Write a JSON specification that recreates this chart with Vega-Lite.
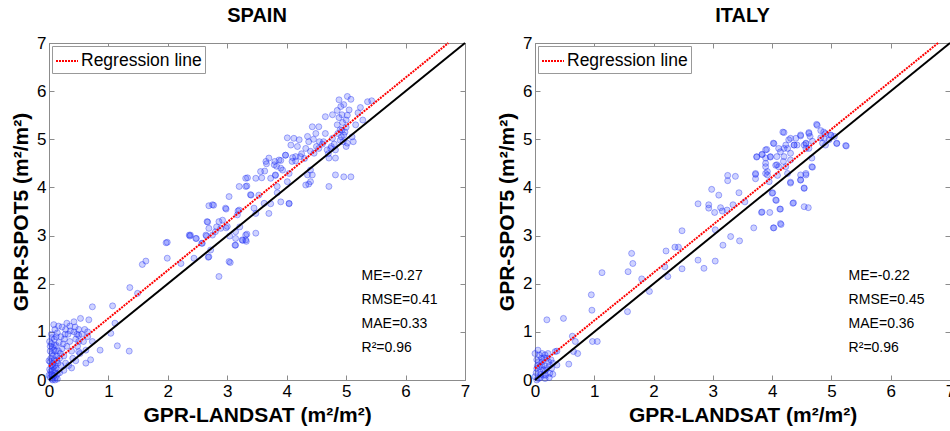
{
  "$schema": "https://vega.github.io/schema/vega-lite/v6.json",
  "padding": {"left": 10, "top": 5, "right": 0, "bottom": 0},
  "config": {
    "font": "Liberation Sans",
    "view": {"stroke": "#8c8c8c", "strokeWidth": 1},
    "axis": {
      "grid": false,
      "domainColor": "#8c8c8c",
      "tickColor": "#8c8c8c",
      "tickSize": -5,
      "labelPadding": 8,
      "labelFont": "Liberation Sans",
      "labelFontSize": 17,
      "labelColor": "black",
      "labelFlush": false,
      "labelOverlap": false,
      "titleFont": "Liberation Sans",
      "titleFontSize": 21,
      "titleFontWeight": "bold",
      "titleColor": "black",
      "titlePadding": 5
    },
    "legend": {
      "orient": "top-left",
      "offset": 3,
      "padding": 3,
      "strokeColor": "#999999",
      "fillColor": "white",
      "labelFont": "Liberation Sans",
      "labelFontSize": 17.5,
      "labelColor": "black",
      "labelOffset": 2,
      "symbolType": "stroke",
      "symbolSize": 484,
      "symbolStrokeWidth": 2,
      "symbolDash": [2, 1]
    },
    "title": {"font": "Liberation Sans", "fontSize": 20, "fontWeight": "bold", "color": "black", "offset": 8, "frame": "group", "anchor": "middle"}
  },
  "datasets": {
    "diag": [{"x": 0, "y": 0}, {"x": 7, "y": 7}],
    "spainReg": [{"x": 0, "y": 0.28}, {"x": 6.72, "y": 7.0}],
    "italyReg": [{"x": 0, "y": 0.24}, {"x": 6.8, "y": 7.0}],
    "spainStats": [
      {"x": 5.26, "y": 2.16, "label": "ME=-0.27"},
      {"x": 5.26, "y": 1.66, "label": "RMSE=0.41"},
      {"x": 5.26, "y": 1.16, "label": "MAE=0.33"},
      {"x": 5.26, "y": 0.66, "label": "R²=0.96"}
    ],
    "italyStats": [
      {"x": 5.29, "y": 2.16, "label": "ME=-0.22"},
      {"x": 5.29, "y": 1.66, "label": "RMSE=0.45"},
      {"x": 5.29, "y": 1.16, "label": "MAE=0.36"},
      {"x": 5.29, "y": 0.66, "label": "R²=0.96"}
    ],
    "spain": [
      {"x":5.02,"y":5.89},{"x":4.88,"y":5.82},{"x":5.08,"y":5.83},{"x":5.36,"y":5.78},{"x":5.43,"y":5.8},{"x":5.24,"y":5.66},{"x":5.05,"y":5.61},{"x":4.91,"y":5.68},{"x":4.93,"y":5.51},{"x":5.0,"y":5.4},
      {"x":4.77,"y":5.51},{"x":4.65,"y":5.47},{"x":5.16,"y":5.3},{"x":4.85,"y":5.3},{"x":4.93,"y":5.19},{"x":4.96,"y":5.09},{"x":5.02,"y":4.92},{"x":4.77,"y":5.02},{"x":4.65,"y":5.12},{"x":4.49,"y":5.12},
      {"x":4.43,"y":5.26},{"x":4.54,"y":5.26},{"x":4.35,"y":5.06},{"x":4.37,"y":4.95},{"x":4.21,"y":4.99},{"x":4.12,"y":5.02},{"x":4.01,"y":5.03},{"x":4.07,"y":4.88},{"x":4.15,"y":4.64},{"x":4.23,"y":4.64},
      {"x":4.09,"y":4.54},{"x":4.32,"y":4.81},{"x":4.46,"y":4.71},{"x":4.54,"y":4.81},{"x":4.62,"y":4.95},{"x":4.74,"y":4.81},{"x":4.82,"y":4.78},{"x":4.71,"y":4.61},{"x":4.82,"y":4.61},{"x":4.68,"y":4.78},
      {"x":4.4,"y":4.36},{"x":4.35,"y":4.26},{"x":4.4,"y":4.12},{"x":4.43,"y":4.26},{"x":4.32,"y":4.05},{"x":4.37,"y":4.07},{"x":4.71,"y":4.02},{"x":4.82,"y":4.26},{"x":4.96,"y":4.22},{"x":5.08,"y":4.22},
      {"x":4.04,"y":4.29},{"x":4.01,"y":4.12},{"x":3.98,"y":4.67},{"x":3.7,"y":4.61},{"x":3.87,"y":4.57},{"x":3.79,"y":4.47},{"x":3.9,"y":4.4},{"x":3.93,"y":4.36},{"x":3.81,"y":4.26},{"x":3.73,"y":4.19},
      {"x":3.65,"y":4.54},{"x":3.56,"y":4.33},{"x":3.84,"y":4.02},{"x":3.9,"y":3.7},{"x":4.04,"y":3.67},{"x":3.48,"y":4.19},{"x":3.31,"y":4.19},{"x":3.2,"y":4.02},{"x":3.31,"y":4.02},{"x":3.53,"y":3.84},
      {"x":3.4,"y":3.84},{"x":3.62,"y":3.67},{"x":3.7,"y":3.46},{"x":3.48,"y":3.46},{"x":3.45,"y":3.57},{"x":3.03,"y":3.81},{"x":2.97,"y":3.57},{"x":3.2,"y":3.53},{"x":3.17,"y":3.43},{"x":2.75,"y":3.64},
      {"x":2.69,"y":3.62},{"x":2.66,"y":3.29},{"x":2.86,"y":3.29},{"x":2.89,"y":3.15},{"x":2.8,"y":3.08},{"x":2.69,"y":3.15},{"x":2.64,"y":3.01},{"x":2.75,"y":3.01},{"x":2.47,"y":2.94},{"x":2.38,"y":3.01},
      {"x":2.36,"y":3.01},{"x":2.58,"y":2.84},{"x":2.72,"y":2.7},{"x":2.69,"y":2.56},{"x":3.0,"y":3.19},{"x":3.14,"y":2.94},{"x":3.14,"y":2.8},{"x":3.25,"y":2.91},{"x":3.31,"y":2.91},{"x":3.31,"y":3.01},
      {"x":3.14,"y":3.08},{"x":3.48,"y":3.05},{"x":3.03,"y":2.46},{"x":2.86,"y":2.15},{"x":2.44,"y":2.53},{"x":2.22,"y":2.42},{"x":1.99,"y":2.53},{"x":1.99,"y":2.86},{"x":1.57,"y":2.4},{"x":1.63,"y":2.47},
      {"x":1.36,"y":1.92},{"x":1.49,"y":1.8},{"x":0.73,"y":1.52},{"x":1.07,"y":1.54},{"x":1.11,"y":1.18},{"x":1.04,"y":0.97},{"x":1.15,"y":0.71},{"x":1.35,"y":0.6},{"x":0.86,"y":0.62},{"x":0.65,"y":1.0},
      {"x":0.73,"y":0.8},{"x":0.62,"y":0.35},{"x":0.7,"y":0.42},{"x":0.5,"y":0.93},{"x":0.5,"y":0.59},
      {"x":4.88,"y":5.45},{"x":4.9,"y":5.2},{"x":4.92,"y":5.05},{"x":4.95,"y":4.95},{"x":4.98,"y":5.15},{"x":5.0,"y":5.25},{"x":4.86,"y":5.12},{"x":4.9,"y":4.98},{"x":4.94,"y":5.35},{"x":5.02,"y":5.5},
      {"x":4.96,"y":5.72},{"x":4.85,"y":5.6},{"x":4.8,"y":4.9},{"x":4.75,"y":4.85},{"x":4.7,"y":4.7},{"x":4.6,"y":4.9},{"x":4.55,"y":4.95},{"x":4.5,"y":4.85},{"x":4.45,"y":5.0},{"x":4.4,"y":4.75},
      {"x":4.3,"y":4.6},{"x":4.25,"y":4.7},{"x":4.15,"y":4.55},{"x":4.18,"y":4.85},{"x":4.1,"y":4.62},{"x":5.1,"y":5.05},{"x":5.2,"y":5.55},{"x":5.28,"y":5.4},{"x":5.12,"y":4.95},{"x":5.0,"y":4.85},
      {"x":1.97,"y":2.85},{"x":2.37,"y":2.99},{"x":2.48,"y":2.94},{"x":2.57,"y":2.84},{"x":2.65,"y":2.99},{"x":2.67,"y":3.28},{"x":2.77,"y":3.63},{"x":2.82,"y":3.18},{"x":2.92,"y":3.32},{"x":2.98,"y":3.55},
      {"x":2.98,"y":3.16},{"x":2.68,"y":2.55},{"x":3.05,"y":2.44},{"x":3.04,"y":2.99},{"x":3.13,"y":2.8},{"x":3.18,"y":3.51},{"x":3.21,"y":3.18},{"x":3.33,"y":4.03},{"x":3.34,"y":4.2},{"x":3.26,"y":2.9},
      {"x":3.32,"y":2.88},{"x":3.33,"y":3.03},{"x":3.39,"y":3.85},{"x":3.58,"y":4.2},{"x":3.63,"y":4.34},{"x":3.66,"y":4.49},{"x":3.8,"y":4.54},{"x":3.83,"y":4.44},{"x":3.9,"y":4.56},{"x":3.81,"y":4.25},
      {"x":3.73,"y":3.66},{"x":3.84,"y":3.89},{"x":3.98,"y":4.67},{"x":4.04,"y":3.66},
      {"x":0.02,"y":0.05},{"x":0.03,"y":0.12},{"x":0.05,"y":0.02},{"x":0.06,"y":0.2},{"x":0.04,"y":0.3},{"x":0.08,"y":0.08},{"x":0.1,"y":0.15},{"x":0.07,"y":0.35},{"x":0.03,"y":0.45},{"x":0.05,"y":0.55},
      {"x":0.09,"y":0.42},{"x":0.12,"y":0.25},{"x":0.11,"y":0.05},{"x":0.02,"y":0.6},{"x":0.06,"y":0.68},{"x":0.04,"y":0.75},{"x":0.08,"y":0.62},{"x":0.13,"y":0.5},{"x":0.15,"y":0.35},{"x":0.14,"y":0.12},
      {"x":0.01,"y":0.22},{"x":0.02,"y":0.38},{"x":0.1,"y":0.3},{"x":0.12,"y":0.72},{"x":0.09,"y":0.85},{"x":0.05,"y":0.88},{"x":0.16,"y":0.6},{"x":0.18,"y":0.45},{"x":0.2,"y":0.3},{"x":0.17,"y":0.78},
      {"x":0.22,"y":0.65},{"x":0.25,"y":0.5},{"x":0.28,"y":0.35},{"x":0.3,"y":0.7},{"x":0.26,"y":0.85},{"x":0.2,"y":0.9},{"x":0.14,"y":0.98},{"x":0.32,"y":0.95},{"x":0.35,"y":0.8},{"x":0.38,"y":0.6},
      {"x":0.4,"y":0.45},{"x":0.42,"y":1.0},{"x":0.45,"y":0.85},{"x":0.48,"y":0.7},{"x":0.35,"y":1.12},{"x":0.28,"y":1.05},{"x":0.22,"y":1.1},{"x":0.3,"y":1.18},{"x":0.5,"y":1.05},{"x":0.55,"y":0.95},
      {"x":0.58,"y":0.8},{"x":0.52,"y":0.55},{"x":0.6,"y":1.05},{"x":0.45,"y":0.4},{"x":0.33,"y":0.3},{"x":0.25,"y":0.2},{"x":0.18,"y":0.15},{"x":0.07,"y":0.5},{"x":0.11,"y":0.6},{"x":0.04,"y":0.95},
      {"x":0.1,"y":1.05},{"x":0.16,"y":1.12},{"x":0.38,"y":0.25},{"x":0.62,"y":0.62},{"x":0.65,"y":0.9},{"x":0.67,"y":1.25},{"x":0.53,"y":1.28},{"x":0.42,"y":1.21},{"x":0.06,"y":0.0},{"x":0.1,"y":0.0},
      {"x":0.14,"y":0.02},{"x":0.03,"y":0.18},{"x":0.07,"y":0.27},{"x":0.09,"y":0.72},{"x":0.01,"y":0.8},{"x":0.13,"y":0.4},{"x":0.19,"y":0.55},{"x":0.24,"y":0.75},{"x":0.27,"y":0.95},{"x":0.36,"y":1.02},
      {"x":0.44,"y":1.1},{"x":0.47,"y":0.95},{"x":0.5,"y":0.8},{"x":0.0,"y":0.1},{"x":0.0,"y":0.4},{"x":0.08,"y":1.15},{"x":0.12,"y":0.9},{"x":0.02,"y":0.7},{"x":0.06,"y":0.1},{"x":0.09,"y":0.22}
    ],
    "italy": [
      {"x":4.75,"y":5.31},{"x":4.18,"y":5.15},{"x":4.62,"y":5.14},{"x":4.82,"y":5.18},{"x":4.64,"y":5.06},{"x":4.48,"y":5.09},{"x":4.57,"y":4.92},{"x":4.4,"y":5.02},{"x":4.28,"y":4.99},{"x":4.31,"y":5.02},
      {"x":4.23,"y":4.88},{"x":4.37,"y":4.88},{"x":4.42,"y":4.88},{"x":4.9,"y":5.12},{"x":4.99,"y":5.09},{"x":4.96,"y":4.99},{"x":4.88,"y":5.02},{"x":4.85,"y":4.92},{"x":5.05,"y":5.06},{"x":5.09,"y":4.92},
      {"x":5.24,"y":4.87},{"x":4.9,"y":4.88},{"x":4.62,"y":4.81},{"x":4.57,"y":4.81},{"x":4.54,"y":4.88},{"x":4.02,"y":4.92},{"x":4.2,"y":4.81},{"x":4.11,"y":4.81},{"x":3.89,"y":4.78},{"x":3.83,"y":4.69},
      {"x":3.74,"y":4.64},{"x":3.97,"y":4.64},{"x":4.08,"y":4.64},{"x":3.89,"y":4.61},{"x":3.89,"y":4.5},{"x":3.89,"y":4.43},{"x":4.2,"y":4.64},{"x":4.08,"y":4.47},{"x":4.31,"y":4.71},{"x":4.31,"y":4.57},
      {"x":4.23,"y":4.43},{"x":4.11,"y":4.43},{"x":4.67,"y":4.61},{"x":4.67,"y":4.43},{"x":3.92,"y":4.33},{"x":3.92,"y":4.26},{"x":3.72,"y":4.27},{"x":3.72,"y":4.18},{"x":3.95,"y":4.12},{"x":4.26,"y":4.29},
      {"x":4.48,"y":4.26},{"x":4.57,"y":4.26},{"x":4.48,"y":4.16},{"x":4.31,"y":4.09},{"x":4.54,"y":3.98},{"x":4.0,"y":3.88},{"x":4.06,"y":3.74},{"x":4.14,"y":3.55},{"x":4.35,"y":3.67},{"x":4.54,"y":3.6},
      {"x":4.61,"y":3.58},{"x":3.82,"y":3.48},{"x":3.96,"y":3.48},{"x":4.14,"y":3.25},{"x":4.02,"y":3.16},{"x":3.69,"y":3.16},{"x":3.25,"y":4.25},{"x":3.25,"y":4.14},{"x":3.38,"y":4.23},{"x":2.98,"y":3.96},
      {"x":3.1,"y":3.84},{"x":3.44,"y":3.89},{"x":3.54,"y":3.7},{"x":3.34,"y":3.64},{"x":2.75,"y":3.66},{"x":2.93,"y":3.64},{"x":2.93,"y":3.57},{"x":3.03,"y":3.48},{"x":3.13,"y":3.58},{"x":3.16,"y":3.51},
      {"x":3.24,"y":3.53},{"x":3.04,"y":3.12},{"x":3.3,"y":2.98},{"x":3.17,"y":2.8},{"x":3.45,"y":2.89},{"x":2.75,"y":2.49},{"x":2.85,"y":2.32},{"x":3.04,"y":2.47},{"x":2.48,"y":3.1},{"x":2.36,"y":2.76},
      {"x":2.42,"y":2.76},{"x":2.21,"y":2.68},{"x":2.48,"y":2.31},{"x":2.19,"y":2.35},{"x":2.24,"y":2.15},{"x":1.63,"y":2.63},{"x":1.65,"y":2.42},{"x":1.57,"y":2.25},{"x":1.8,"y":2.1},{"x":1.93,"y":1.84},
      {"x":1.56,"y":1.42},{"x":1.13,"y":2.23},{"x":0.95,"y":1.77},{"x":0.96,"y":1.45},{"x":0.97,"y":0.8},{"x":1.05,"y":0.8},{"x":0.2,"y":1.25},{"x":0.48,"y":1.28},{"x":0.63,"y":0.91},{"x":0.68,"y":0.8},
      {"x":0.72,"y":0.55},{"x":0.57,"y":0.33},{"x":0.65,"y":0.59},{"x":0.37,"y":0.6},{"x":0.34,"y":0.59},{"x":0.27,"y":0.42},{"x":0.37,"y":0.31},{"x":0.28,"y":0.24},{"x":0.17,"y":0.52},{"x":0.0,"y":0.55},
      {"x":0.05,"y":0.62},{"x":0.06,"y":0.38},{"x":0.11,"y":0.31},{"x":0.03,"y":0.24},{"x":0.08,"y":0.17},{"x":0.14,"y":0.1},{"x":0.0,"y":0.07},{"x":0.06,"y":0.03},{"x":0.2,"y":0.24},{"x":0.23,"y":0.38},
      {"x":0.11,"y":0.45},{"x":0.17,"y":0.03},{"x":0.25,"y":0.14},{"x":0.03,"y":0.42},{"x":0.08,"y":0.28},{"x":0.14,"y":0.21},{"x":0.02,"y":0.15},{"x":0.04,"y":0.3},{"x":0.1,"y":0.12},{"x":0.12,"y":0.38},
      {"x":0.15,"y":0.3},{"x":0.18,"y":0.2},{"x":0.03,"y":0.0},{"x":0.09,"y":0.05},{"x":0.2,"y":0.45},{"x":0.22,"y":0.55},{"x":0.25,"y":0.3},{"x":0.3,"y":0.35},{"x":0.07,"y":0.52},{"x":0.12,"y":0.55},
      {"x":0.15,"y":0.46},{"x":0.18,"y":0.1},{"x":0.3,"y":0.12},{"x":0.24,"y":0.05},
      {"x":4.76,"y":5.29},{"x":4.2,"y":5.14},{"x":4.48,"y":5.07},{"x":4.03,"y":4.91},{"x":3.74,"y":4.63},{"x":3.91,"y":4.79},{"x":3.83,"y":4.68},{"x":3.72,"y":4.29},{"x":3.89,"y":4.29},{"x":4.09,"y":4.25},
      {"x":4.31,"y":4.11},{"x":4.48,"y":4.15},{"x":4.54,"y":3.99},{"x":4.01,"y":3.89},{"x":4.07,"y":3.73},{"x":4.36,"y":3.68},{"x":3.83,"y":3.49},{"x":4.13,"y":3.55},{"x":4.03,"y":3.16},{"x":4.15,"y":3.23},
      {"x":5.25,"y":4.86},{"x":5.09,"y":4.91},{"x":4.99,"y":5.08},{"x":4.87,"y":5.15},{"x":4.82,"y":5.03},{"x":4.68,"y":4.96},{"x":4.62,"y":5.12},{"x":4.57,"y":4.91},{"x":4.37,"y":4.88},{"x":4.26,"y":4.81},
      {"x":4.14,"y":4.74},{"x":3.97,"y":4.63},{"x":4.06,"y":4.46},{"x":4.19,"y":4.54},{"x":4.68,"y":4.42},{"x":4.57,"y":4.29}
    ]
  },
  "hconcat": [
    {
      "width": 416,
      "height": 337,
      "title": {"text": "SPAIN"},
      "layer": [
        {
          "data": {"name": "spain"},
          "mark": {"type": "circle", "size": 36, "opacity": 1, "fill": "#2030ff", "fillOpacity": 0.22, "stroke": "#2030f0", "strokeOpacity": 0.38, "strokeWidth": 1},
          "encoding": {
            "x": {"field": "x", "type": "quantitative", "scale": {"domain": [0, 7], "nice": false}, "axis": {"orient": "bottom", "title": "GPR-LANDSAT (m²/m²)", "values": [0, 1, 2, 3, 4, 5, 6, 7], "format": "d"}},
            "y": {"field": "y", "type": "quantitative", "scale": {"domain": [0, 7], "nice": false}, "axis": {"orient": "left", "title": "GPR-SPOT5 (m²/m²)", "values": [0, 1, 2, 3, 4, 5, 6, 7], "format": "d"}}
          }
        },
        {
          "data": {"name": "diag"},
          "mark": {"type": "line", "color": "black", "strokeWidth": 2},
          "encoding": {
            "x": {"field": "x", "type": "quantitative", "axis": {"orient": "top", "labels": false, "title": null, "domain": false, "values": [0, 1, 2, 3, 4, 5, 6, 7]}},
            "y": {"field": "y", "type": "quantitative", "axis": {"orient": "right", "labels": false, "title": null, "domain": false, "values": [0, 1, 2, 3, 4, 5, 6, 7]}}
          }
        },
        {
          "data": {"name": "spainReg"},
          "mark": {"type": "line", "strokeWidth": 2, "strokeDash": [2, 1]},
          "encoding": {
            "x": {"field": "x", "type": "quantitative", "axis": null},
            "y": {"field": "y", "type": "quantitative", "axis": null},
            "color": {"datum": "Regression line", "scale": {"domain": ["Regression line"], "range": ["#ff0000"]}, "legend": {"title": null}}
          }
        },
        {
          "data": {"name": "spainStats"},
          "mark": {"type": "text", "align": "left", "baseline": "middle", "fontSize": 14, "font": "Liberation Sans", "color": "black"},
          "encoding": {
            "x": {"field": "x", "type": "quantitative", "axis": null},
            "y": {"field": "y", "type": "quantitative", "axis": null},
            "text": {"field": "label"}
          }
        }
      ]
    },
    {
      "width": 415,
      "height": 337,
      "title": {"text": "ITALY"},
      "layer": [
        {
          "data": {"name": "italy"},
          "mark": {"type": "circle", "size": 36, "opacity": 1, "fill": "#2030ff", "fillOpacity": 0.22, "stroke": "#2030f0", "strokeOpacity": 0.38, "strokeWidth": 1},
          "encoding": {
            "x": {"field": "x", "type": "quantitative", "scale": {"domain": [0, 7], "nice": false}, "axis": {"orient": "bottom", "title": "GPR-LANDSAT (m²/m²)", "values": [0, 1, 2, 3, 4, 5, 6, 7], "format": "d"}},
            "y": {"field": "y", "type": "quantitative", "scale": {"domain": [0, 7], "nice": false}, "axis": {"orient": "left", "title": "GPR-SPOT5 (m²/m²)", "values": [0, 1, 2, 3, 4, 5, 6, 7], "format": "d"}}
          }
        },
        {
          "data": {"name": "diag"},
          "mark": {"type": "line", "color": "black", "strokeWidth": 2},
          "encoding": {
            "x": {"field": "x", "type": "quantitative", "axis": {"orient": "top", "labels": false, "title": null, "domain": false, "values": [0, 1, 2, 3, 4, 5, 6, 7]}},
            "y": {"field": "y", "type": "quantitative", "axis": {"orient": "right", "labels": false, "title": null, "domain": false, "values": [0, 1, 2, 3, 4, 5, 6, 7]}}
          }
        },
        {
          "data": {"name": "italyReg"},
          "mark": {"type": "line", "strokeWidth": 2, "strokeDash": [2, 1]},
          "encoding": {
            "x": {"field": "x", "type": "quantitative", "axis": null},
            "y": {"field": "y", "type": "quantitative", "axis": null},
            "color": {"datum": "Regression line", "scale": {"domain": ["Regression line"], "range": ["#ff0000"]}, "legend": {"title": null}}
          }
        },
        {
          "data": {"name": "italyStats"},
          "mark": {"type": "text", "align": "left", "baseline": "middle", "fontSize": 14, "font": "Liberation Sans", "color": "black"},
          "encoding": {
            "x": {"field": "x", "type": "quantitative", "axis": null},
            "y": {"field": "y", "type": "quantitative", "axis": null},
            "text": {"field": "label"}
          }
        }
      ]
    }
  ],
  "spacing": 25,
  "resolve": {"scale": {"color": "independent"}, "legend": {"color": "independent"}}
}
